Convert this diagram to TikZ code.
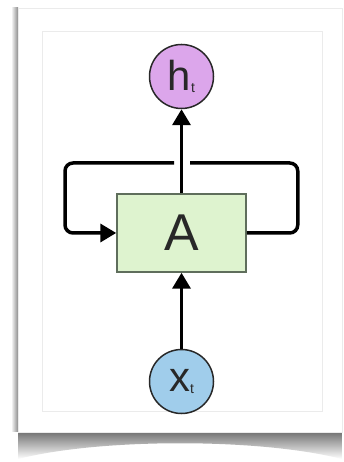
\documentclass[tikz,border=0pt]{standalone}
\usepackage{fontspec}
\setmainfont{Liberation Sans}
\usepackage{xcolor}
\usepackage{tikz}
\usetikzlibrary{calc,positioning,arrows.meta,shapes.geometric}
\definecolor{cellgreen}{RGB}{222,243,207}
\definecolor{cellborder}{RGB}{95,110,92}
\definecolor{hpurple}{RGB}{220,166,235}
\definecolor{xblue}{RGB}{160,205,235}
\definecolor{inkgray}{RGB}{40,40,40}
\tikzstyle{cell} = [rectangle, minimum width=129bp, minimum height=78bp, inner sep=0pt, text centered, fill=cellgreen, draw=cellborder, line width=1.5bp, text=inkgray, font=\fontsize{52}{52}\selectfont]
\tikzstyle{state} = [circle, minimum size=64bp, inner sep=0pt, draw=inkgray, line width=1.5bp, text=inkgray]
\tikzstyle{arrow} = [line width=3.5bp, black, -{Triangle[length=16bp,width=18bp]}]
\tikzstyle{loopline} = [line width=3.5bp, black, rounded corners=8bp]
\newcommand{\lbl}[2]{{\fontsize{42}{42}\selectfont #1}\raisebox{-1.5bp}{\fontsize{14}{14}\selectfont #2}}

\begin{document}
\begin{tikzpicture}
		[x=1bp, y=1bp, node distance=84bp]
		\useasboundingbox (0,0) rectangle (343,462);
		\fill[white] (0,0) rectangle (343,462);
		% paper card and its shadow
		\shade[left color=white, right color=black!45] (11,30) rectangle (18,454);
		\shade[top color=black!55, bottom color=white] (18,30) -- (342,30) -- (342,3) .. controls (260,24) and (100,24) .. (18,3) -- cycle;
		\filldraw[fill=white, draw=black!8, line width=0.8bp] (18,30) rectangle (342,454);
		\draw[black!8, line width=1bp] (42,50) rectangle (322,430);
		
		\node[cell] (A) at (181.5,229) {A};
		\node[state, fill=hpurple, above=84bp of A] (h) {\lbl{h}{t}};
		\node[state, fill=xblue, below=76bp of A] (x) {\lbl{x}{t}};
		
		\coordinate (gapL) at (174,299);
		\coordinate (gapR) at (190,299);
		
		\draw[arrow] (x) -- (A);
		\draw[arrow] (A) -- (h);
		\draw[loopline] (A.east) -- ++(51,0) |- (gapR);
		\draw[arrow, rounded corners=8bp] (gapL) -- ++(-109,0) |- (A.west);
\end{tikzpicture}
\end{document}
